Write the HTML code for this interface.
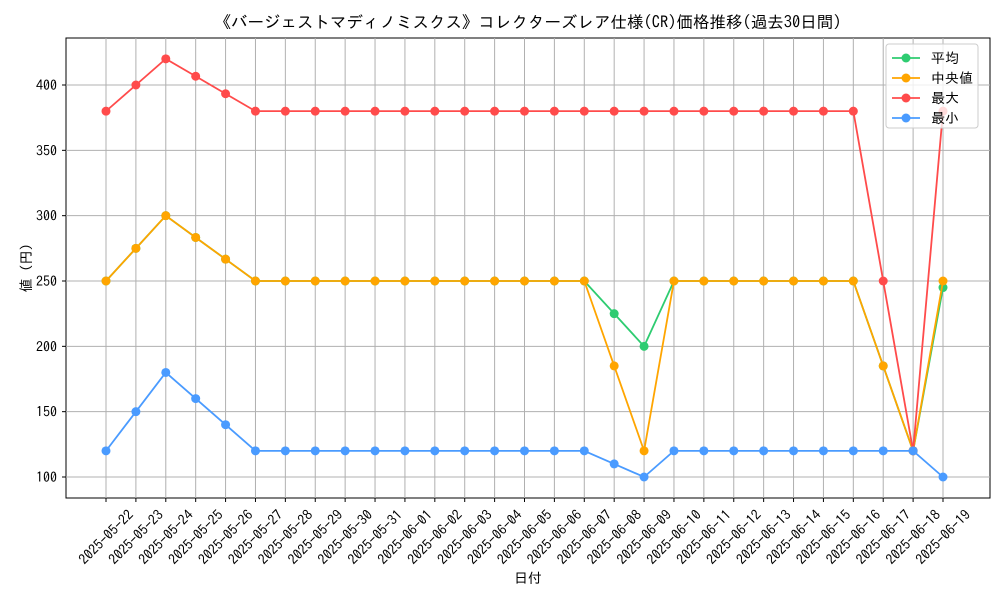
<!DOCTYPE html>
<html><head><meta charset="utf-8"><style>
body{margin:0;background:#fff;}
svg text{font-family:"IPAGothic","Noto Sans CJK JP",sans-serif;fill:#000;}
</style></head><body>
<svg id="chart" width="1000" height="600" xmlns="http://www.w3.org/2000/svg">
<text x="528" y="28" font-size="16.5" text-anchor="middle">《バージェストマディノミスクス》コレクターズレア仕様(CR)価格推移(過去30日間)</text>
<rect x="66" y="38" width="924" height="460" fill="none" stroke="#000" stroke-width="1"/>
<g id="grid"></g><g id="xticks"></g><g id="yticks"></g><g id="series"></g>
<text x="528" y="583" font-size="14" text-anchor="middle">日付</text>
<text transform="translate(31,268) rotate(-90)" font-size="14" text-anchor="middle">値 (円)</text>
<g>
<rect x="886" y="44" width="92" height="84" rx="3" fill="#fff" fill-opacity="0.8" stroke="#ccc"/>
<g id="legend-items"></g>
</g>
</svg>
<script>
const dates=["2025-05-22","2025-05-23","2025-05-24","2025-05-25","2025-05-26","2025-05-27","2025-05-28","2025-05-29","2025-05-30","2025-05-31","2025-06-01","2025-06-02","2025-06-03","2025-06-04","2025-06-05","2025-06-06","2025-06-07","2025-06-08","2025-06-09","2025-06-10","2025-06-11","2025-06-12","2025-06-13","2025-06-14","2025-06-15","2025-06-16","2025-06-17","2025-06-18","2025-06-19"];
const meanVals=[250,275,300,283.3,266.7,250,250,250,250,250,250,250,250,250,250,250,250,225,200,250,250,250,250,250,250,250,185,120,245];
const medianVals=[250,275,300,283.3,266.7,250,250,250,250,250,250,250,250,250,250,250,250,185,120,250,250,250,250,250,250,250,185,120,250];
const maxVals=[380,400,420,406.7,393.3,380,380,380,380,380,380,380,380,380,380,380,380,380,380,380,380,380,380,380,380,380,250,120,380];
const minVals=[120,150,180,160,140,120,120,120,120,120,120,120,120,120,120,120,120,110,100,120,120,120,120,120,120,120,120,120,100];
const yTicks=[100,150,200,250,300,350,400];
const seriesNames=["平均","中央値","最大","最小"];
const NS="http://www.w3.org/2000/svg";
function xs(i){return 106+i*(943-106)/(dates.length-1);}
function ys(v){return 477-(v-100)*392/300;}
function mk(t,a,p){const e=document.createElementNS(NS,t);for(const k in a)e.setAttribute(k,a[k]);p.appendChild(e);return e;}
const grid=document.getElementById('grid'),xt=document.getElementById('xticks'),yt=document.getElementById('yticks'),sg=document.getElementById('series');
dates.forEach((d,i)=>{const x=xs(i);
const g=mk('line',{x1:x,x2:x,y1:38,y2:498,stroke:'#b0b0b0','stroke-width':1},grid);


mk('line',{x1:x,x2:x,y1:498,y2:502,stroke:'#000'},xt);
const t=mk('text',{x:x,y:537,'font-size':14,'text-anchor':'middle','dominant-baseline':'central',transform:`rotate(-45 ${x} 537)`},xt);
t.textContent=d;

});
yTicks.forEach(v=>{const y=ys(v);
const g=mk('line',{x1:66,x2:990,y1:y,y2:y,stroke:'#b0b0b0','stroke-width':1},grid);


mk('line',{x1:62,x2:66,y1:y,y2:y,stroke:'#000'},yt);
const t=mk('text',{x:57,y:y+5,'font-size':14,'text-anchor':'end'},yt);
t.textContent=v;

});
const all=[meanVals,medianVals,maxVals,minVals],cols=["#2ecc71","#ffa500","#ff4b4b","#4a9bff"],ids=["mean","median","max","min"];
all.forEach((vals,s)=>{const g=mk('g',{},sg);


mk('polyline',{points:vals.map((v,i)=>xs(i)+','+ys(v)).join(' '),fill:'none',stroke:cols[s],'stroke-width':1.8},g);
vals.forEach((v,i)=>{const c=mk('circle',{cx:xs(i),cy:ys(v),r:4.5,fill:cols[s]},g);

});});
const li=document.getElementById('legend-items');
seriesNames.forEach((n,s)=>{const y=58+s*20;const g=mk('g',{},li);


mk('line',{x1:892,x2:920,y1:y,y2:y,stroke:cols[s],'stroke-width':1.8},g);
mk('circle',{cx:906,cy:y,r:4.5,fill:cols[s]},g);
const t=mk('text',{x:931,y:y+5,'font-size':14},g);t.textContent=n;});
</script>
</body></html>
